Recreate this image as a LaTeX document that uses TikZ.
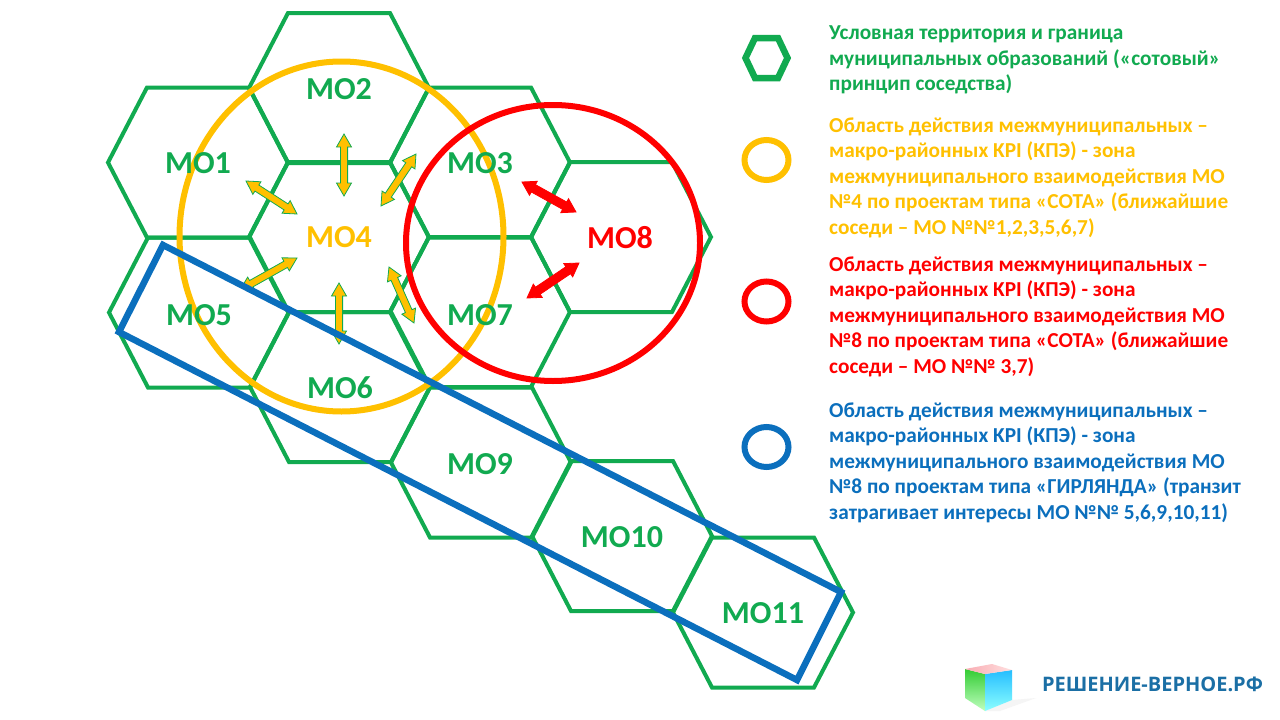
\documentclass[tikz,border=0pt]{standalone}
\usepackage{fontspec}
\setmainfont{Carlito}
\newfontfamily\logofont{Open Sans}
\definecolor{mogreen}{HTML}{11AA50}
\definecolor{moyellow}{HTML}{FFC000}
\definecolor{mored}{HTML}{FF0000}
\definecolor{moblue}{HTML}{0B6FBD}
\definecolor{logoblue}{HTML}{1B6FA5}
\newcommand{\hexcell}[2]{%
  \draw[hexline] (#1-90,#2) -- (#1-51,#2-75) -- (#1+51,#2-75) -- (#1+90,#2) -- (#1+51,#2+75) -- (#1-51,#2+75) -- cycle;}
\newcommand{\dblarrow}[7]{%
  \pgfmathsetmacro{\arrang}{-atan2(#4-#2,#3-#1)}%
  \pgfmathsetmacro{\arrlen}{veclen(#3-#1,#4-#2)}%
  \begin{scope}[shift={(#1,#2)},rotate=\arrang]
    \draw[#5] (0,0) -- (13,-#7) -- (13,-#6) -- (\arrlen-13,-#6) -- (\arrlen-13,-#7) -- (\arrlen,0) -- (\arrlen-13,#7) -- (\arrlen-13,#6) -- (13,#6) -- (13,#7) -- cycle;
  \end{scope}}
\tikzset{
  hexline/.style={draw=mogreen,line width=4pt,line join=miter},
  molabel/.style={font=\fontsize{32}{36}\selectfont\bfseries,inner sep=0pt,text=mogreen},
  legend/.style={font=\fontsize{21.3}{25.5}\selectfont\bfseries,inner sep=0pt,anchor=north west,align=left},
  yarrow/.style={fill=moyellow,draw=mogreen,line width=0.8pt,line join=miter},
  rarrow/.style={fill=mored,draw=mored,line width=0.8pt,line join=miter}
}
\begin{document}
\begin{tikzpicture}[x=1pt,y=-1pt]
\useasboundingbox (0,0) rectangle (1280,720);
\fill[white] (0,0) rectangle (1280,720);
% honeycomb
\hexcell{198}{162.5}
\hexcell{339}{88}
\hexcell{480}{162.5}
\hexcell{339}{237}
\hexcell{199}{312.5}
\hexcell{340}{387}
\hexcell{480}{312}
\hexcell{621}{237}
\hexcell{481}{462.5}
\hexcell{622}{536}
\hexcell{763}{612.5}
% zones
\draw[moyellow,line width=6pt] (341.5,236.5) ellipse [x radius=162,y radius=175];
% double arrows
\dblarrow{246}{181}{297}{214}{yarrow}{3.6}{7.5}
\dblarrow{344}{134}{344}{196}{yarrow}{3.6}{7.5}
\dblarrow{416}{154}{381}{206}{yarrow}{3.6}{7.5}
\begin{scope}
  \clip (230,240) -- (310,240) -- (310,320) -- (230,279.3) -- cycle;
  \dblarrow{297}{258}{240}{290}{yarrow}{3.6}{7.5}
\end{scope}
\dblarrow{339}{283}{339}{344}{yarrow}{3.6}{7.5}
\dblarrow{389}{267}{414}{323}{yarrow}{3.6}{7.5}
\dblarrow{522}{182}{576}{212}{rarrow}{4.2}{8}
\dblarrow{579}{263}{527}{298}{rarrow}{4.2}{8}
\draw[mored,line width=6pt] (553,243) ellipse [x radius=147,y radius=138];
\draw[moblue,line width=6.5pt,line join=miter] (163,245) -- (841,592) -- (797,680) -- (119,332) -- cycle;
% cell labels
\node[molabel] (mo1) at (198,163) {МО1};
\node[molabel] (mo2) at (339,89) {МО2};
\node[molabel] (mo3) at (480,163) {МО3};
\node[molabel,text=moyellow] (mo4) at (339,237) {МО4};
\node[molabel] (mo5) at (199,315) {МО5};
\node[molabel] (mo6) at (340,388) {МО6};
\node[molabel] (mo7) at (480,315) {МО7};
\node[molabel,text=mored] (mo8) at (620,238) {МО8};
\node[molabel] (mo9) at (480,464) {МО9};
\node[molabel] (mo10) at (622,537) {МО10};
\node[molabel] (mo11) at (763,613) {МО11};
% legend symbols
\draw[mogreen,line width=6.5pt,line join=miter] (745.5,58) -- (755,38) -- (778,38) -- (787.5,58) -- (778,78) -- (755,78) -- cycle;
\draw[moyellow,line width=6pt] (766.5,160) ellipse [x radius=22,y radius=20];
\draw[mored,line width=6pt] (766.5,301.5) ellipse [x radius=22,y radius=20];
\draw[moblue,line width=6pt] (766.5,447) ellipse [x radius=22,y radius=20];
% legend text
\node[legend,text=mogreen] (t1) at (829,25.5) {Условная территория и граница\\муниципальных образований («сотовый»\\принцип соседства)};
\node[legend,text=moyellow] (t2) at (829,117.5) {Область действия межмуниципальных –\\макро-районных KPI (КПЭ) - зона\\межмуниципального взаимодействия МО\\№4 по проектам типа «СОТА» (ближайшие\\соседи – МО №№1,2,3,5,6,7)};
\node[legend,text=mored] (t3) at (829,256.5) {Область действия межмуниципальных –\\макро-районных KPI (КПЭ) - зона\\межмуниципального взаимодействия МО\\№8 по проектам типа «СОТА»  (ближайшие\\соседи – МО №№ 3,7)};
\node[legend,text=moblue] (t4) at (829,402.5) {Область действия межмуниципальных –\\макро-районных KPI (КПЭ) - зона\\межмуниципального взаимодействия МО\\№8 по проектам типа «ГИРЛЯНДА» (транзит\\затрагивает интересы МО №№ 5,6,9,10,11)};
% logo
\fill[black!4] (985,711) -- (1012,700) -- (1036,698) -- (1000,711) -- cycle;
\shade[top color=green!75!black!80!white,bottom color=green!25!white] (965,669) -- (985,674) -- (985,711) -- (965,698) -- cycle;
\shade[top color=cyan!70!blue!85!white,bottom color=cyan!45!white] (985,674) -- (1012,670) -- (1012,700) -- (985,711) -- cycle;
\shade[left color=pink!90!purple,right color=pink!50!white] (965,669) -- (992,664) -- (1012,670) -- (985,674) -- cycle;
\node[inner sep=0pt,text=logoblue,font=\logofont\bfseries\fontsize{20}{24}\selectfont] (logo) at (1152.5,684) {РЕШЕНИЕ-ВЕРНОЕ.РФ};
\end{tikzpicture}
\end{document}
